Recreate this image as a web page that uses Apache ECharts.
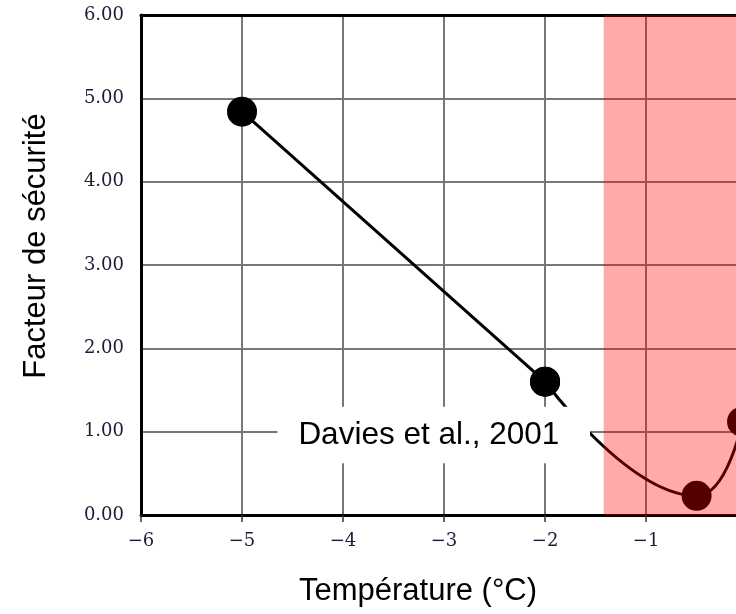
<!DOCTYPE html>
<html>
<head>
<meta charset="utf-8">
<script src="https://cdn.jsdelivr.net/npm/echarts@6/dist/echarts.min.js"></script>
<style>
  html, body { margin: 0; padding: 0; background: #fff; }
  #main { width: 736px; height: 614px; }
</style>
</head>
<body>
<div id="main"></div>
<script>
  // temperature (°C) and safety factor
  var temps = [-5, -2, -0.5, -0.05];
  var factors = [4.84, 1.60, 0.23, 1.12];
  var yTicks = [0, 1, 2, 3, 4, 5, 6];
  var xTicks = [-6, -5, -4, -3, -2, -1];
  // the figure is cropped on the right just before 0 °C
  var xMin = -6, xMax = -0.11;
  // shaded zone and reference box, in data units
  var zone = [-1.42, xMax];
  var noteBox = [[-4.65, 0.62], [-1.555, 1.30]];
  var noteText = 'Davies et al., 2001';

  var pts = temps.map(function (t, i) { return [t, factors[i]]; });

  var chart = echarts.init(document.getElementById('main'));
  var tickFont = { fontFamily: 'DejaVu Serif', fontSize: 18, color: '#1c1c36' };

  var option = {
    animation: false,
    grid: { left: 141, top: 15, bottom: 99, right: 0 },
    xAxis: [{
      type: 'value',
      min: xMin, max: xMax, interval: 1,
      axisLine: { onZero: false, lineStyle: { color: '#000', width: 3 } },
      axisTick: { show: true, length: 7, customValues: xTicks,
        lineStyle: { color: '#333', width: 1.5 } },
      axisLabel: Object.assign({ margin: 17, customValues: xTicks, formatter: function (v) {
        return v < 0 ? '\u2212' + Math.abs(v) : String(v);
      } }, tickFont),
      splitLine: { lineStyle: { color: '#777', width: 2 } }
    }, {
      type: 'value', position: 'top',
      min: xMin, max: xMax,
      axisLine: { show: true, onZero: false, lineStyle: { color: '#000', width: 3 } },
      axisTick: { show: false }, axisLabel: { show: false }, splitLine: { show: false }
    }],
    yAxis: {
      type: 'value',
      min: yTicks[0], max: yTicks[yTicks.length - 1], interval: 1,
      axisLine: { show: true, lineStyle: { color: '#000', width: 3 } },
      axisTick: { show: false },
      axisLabel: Object.assign({ margin: 17, formatter: function (v) {
        return v.toFixed(2);
      } }, tickFont),
      splitLine: { lineStyle: { color: '#777', width: 2 } }
    },
    graphic: [
      {
        type: 'text', x: 418, y: 591, silent: true,
        style: { text: 'Température (°C)', font: '31px "Liberation Sans"', fill: '#000',
          align: 'center', verticalAlign: 'middle' }
      },
      {
        type: 'text', x: 36, y: 246, rotation: Math.PI / 2, silent: true,
        style: { text: 'Facteur de sécurité', font: '31px "Liberation Sans"', fill: '#000',
          align: 'center', verticalAlign: 'middle' }
      }
    ],
    series: [
      {
        type: 'line',
        data: pts.slice(0, 2),
        symbol: 'circle', symbolSize: 30,
        itemStyle: { color: '#000' },
        lineStyle: { color: '#000', width: 3 },
        markArea: {
          z: 5, silent: true,
          itemStyle: { color: '#fff' },
          label: { show: true, position: 'insideLeft', distance: 21,
            fontFamily: 'Liberation Sans', fontSize: 31.5, color: '#000' },
          data: [[
            { name: noteText, coord: noteBox[0] },
            { coord: noteBox[1] }
          ]]
        }
      },
      {
        type: 'line',
        data: pts.slice(1),
        smooth: 0.5,
        clip: false,
        symbol: 'circle', symbolSize: 30,
        itemStyle: { color: '#000' },
        lineStyle: { color: '#000', width: 3 },
        markArea: {
          z: 10, silent: true,
          itemStyle: { color: 'rgba(255, 0, 0, 0.33)' },
          data: [[{ xAxis: zone[0] }, { xAxis: zone[1] }]]
        }
      }
    ]
  };
  chart.setOption(option);
</script>
</body>
</html>
